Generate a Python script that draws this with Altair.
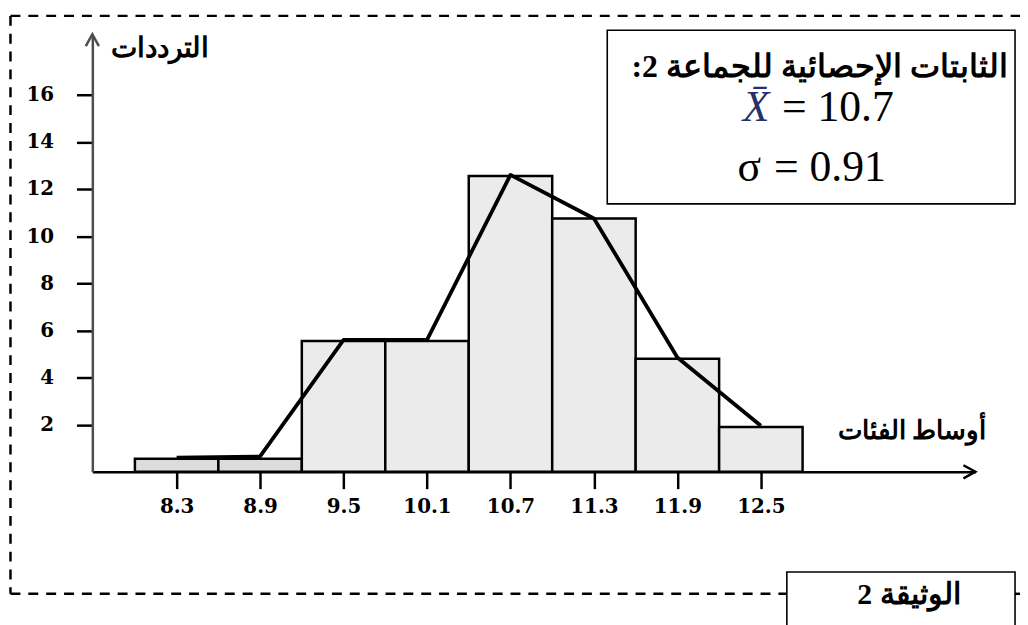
import altair as alt
import pandas as pd

# ---- data ----
mids = [8.3, 8.9, 9.5, 10.1, 10.7, 11.3, 11.9, 12.5]
freqs = [0.55, 0.55, 5.55, 5.55, 12.55, 10.75, 4.8, 1.9]
polygon = [0.6, 0.65, 5.6, 5.6, 12.6, 10.75, 4.85, 1.95]
bar_fills = ["#dcdcdc", "#dcdcdc", "#ebebeb", "#ebebeb", "#ebebeb", "#ebebeb", "#ebebeb", "#ebebeb"]
y_ticks = [2, 4, 6, 8, 10, 12, 14, 16]
class_width = 0.6

y_title = "الترددات"
x_title = "أوساط الفئات"
box_title = ":2 الثابتات الإحصائية للجماعة"
mean_symbol = "X\u0304"
mean_text = "= 10.7"
sd_symbol = "σ"
sd_text = "= 0.91"
doc_label = "2 الوثيقة"

# ---- layout (page pixels) ----
OX, OY = 93, 32          # plot-area origin on the page
W, H = 890, 441          # plot area
X_DOMAIN = [7.694, 14.042]
Y_DOMAIN = [0, 18.57]

def px(x):
    return x - OX

def py(y):
    return y - OY

SERIF = "Liberation Serif"
TICK_FONT = "DejaVu Serif"
TICK_SIZE = 20

xs = alt.Scale(domain=X_DOMAIN, nice=False, zero=False)
ys = alt.Scale(domain=Y_DOMAIN, nice=False, zero=False)

df = pd.DataFrame({
    "mid": mids,
    "lo": [m - class_width / 2 for m in mids],
    "hi": [m + class_width / 2 for m in mids],
    "freq": freqs,
    "poly": polygon,
    "fill": bar_fills,
})

x_axis = alt.Axis(
    values=mids, format=".1f", title=None, grid=False,
    domainColor="black", domainWidth=2.5,
    tickColor="black", tickWidth=2.5, tickSize=17,
    labelFont=TICK_FONT, labelFontWeight="bold", labelFontSize=TICK_SIZE, labelColor="black",
    labelPadding=8, labelOverlap=False, labelFlush=False,
)
y_axis = alt.Axis(
    values=y_ticks, title=None, grid=False,
    domainColor="#4d4d4d", domainWidth=2.5,
    tickColor="black", tickWidth=2.5, tickSize=16,
    labelFont=TICK_FONT, labelFontWeight="bold", labelFontSize=TICK_SIZE, labelColor="black",
    labelPadding=23, labelOverlap=False, labelFlush=False,
)

bars = alt.Chart(df).mark_rect(stroke="black", strokeWidth=2.5).encode(
    x=alt.X("lo:Q", scale=xs, axis=x_axis),
    x2="hi:Q",
    y=alt.Y("freq:Q", scale=ys, axis=y_axis),
    y2=alt.datum(0),
    fill=alt.Fill("fill:N", scale=None),
)

poly_line = alt.Chart(df).mark_line(color="black", strokeWidth=3.8, strokeJoin="round").encode(
    x=alt.X("mid:Q", scale=xs, axis=x_axis),
    y=alt.Y("poly:Q", scale=ys, axis=y_axis),
)

# ---- decorations in pixel space ----
dash_rules = pd.DataFrame({
    "x1": [px(10.5), px(10.5), px(10.5), px(1023)],
    "x2": [px(1030), px(10.5), px(793), px(1030)],
    "y1": [py(13.5), py(13.5), py(596), py(596)],
    "y2": [py(13.5), py(596), py(596), py(596)],
})
rules = alt.Chart(dash_rules).mark_rule(color="black", strokeWidth=2.5, strokeDash=[10, 8]).encode(
    x=alt.X("x1:Q", scale=None), x2="x2:Q",
    y=alt.Y("y1:Q", scale=None), y2="y2:Q",
)

boxes_df = pd.DataFrame({
    "x1": [px(612), px(793)],
    "x2": [px(1023), px(1023)],
    "y1": [py(28), py(574)],
    "y2": [py(203), py(650)],
})
boxes = alt.Chart(boxes_df).mark_rect(fill="white", stroke="black", strokeWidth=1.6).encode(
    x=alt.X("x1:Q", scale=None), x2="x2:Q",
    y=alt.Y("y1:Q", scale=None), y2="y2:Q",
)

arrow_x = alt.Chart(pd.DataFrame({"a": [0]})).mark_point(
    shape="M-1,-0.55L0,0L-1,0.55", size=576, filled=False, stroke="black", strokeWidth=2.5, opacity=1
).encode(x=alt.value(W), y=alt.value(H))
arrow_y = alt.Chart(pd.DataFrame({"a": [0]})).mark_point(
    shape="M-0.55,1L0,0L0.55,1", size=576, filled=False, stroke="#4d4d4d", strokeWidth=2.5, opacity=1
).encode(x=alt.value(0), y=alt.value(0))

def label(text, x, y, size, weight="bold", align="center", style="normal", color="black"):
    return alt.Chart(pd.DataFrame({"t": [text]})).mark_text(
        font=SERIF, fontSize=size, fontWeight=weight, fontStyle=style,
        align=align, baseline="middle", color=color,
    ).encode(text="t:N", x=alt.value(px(x)), y=alt.value(py(y)))

texts = [
    label(y_title, 161, 47, 28),
    label(x_title, 919, 432, 26.5),
    label(box_title, 826, 65, 32),
    label(mean_symbol, 762, 106, 44, weight="normal", style="italic", color="#26306a"),
    label(mean_text, 788, 106, 44, weight="normal", align="left"),
    label(sd_symbol, 755, 167, 44, weight="normal"),
    label(sd_text, 780, 167, 44, weight="normal", align="left"),
    label(doc_label, 916, 597, 30),
]

chart = alt.layer(rules, boxes, bars, poly_line, arrow_x, arrow_y, *texts).properties(
    width=W, height=H,
    autosize=alt.AutoSizeParams(type="none"),
    padding={"left": OX - 8, "top": OY - 8, "right": 1020 - (OX - 8) - W, "bottom": 617 - (OY - 8) - H},
    background="white",
).configure_view(stroke=None).configure_axis(
    labelFont=TICK_FONT, labelFontWeight="bold", labelFontSize=TICK_SIZE, labelColor="black",
)

chart.save("out.html", embed_options={"renderer": "svg", "actions": False})
